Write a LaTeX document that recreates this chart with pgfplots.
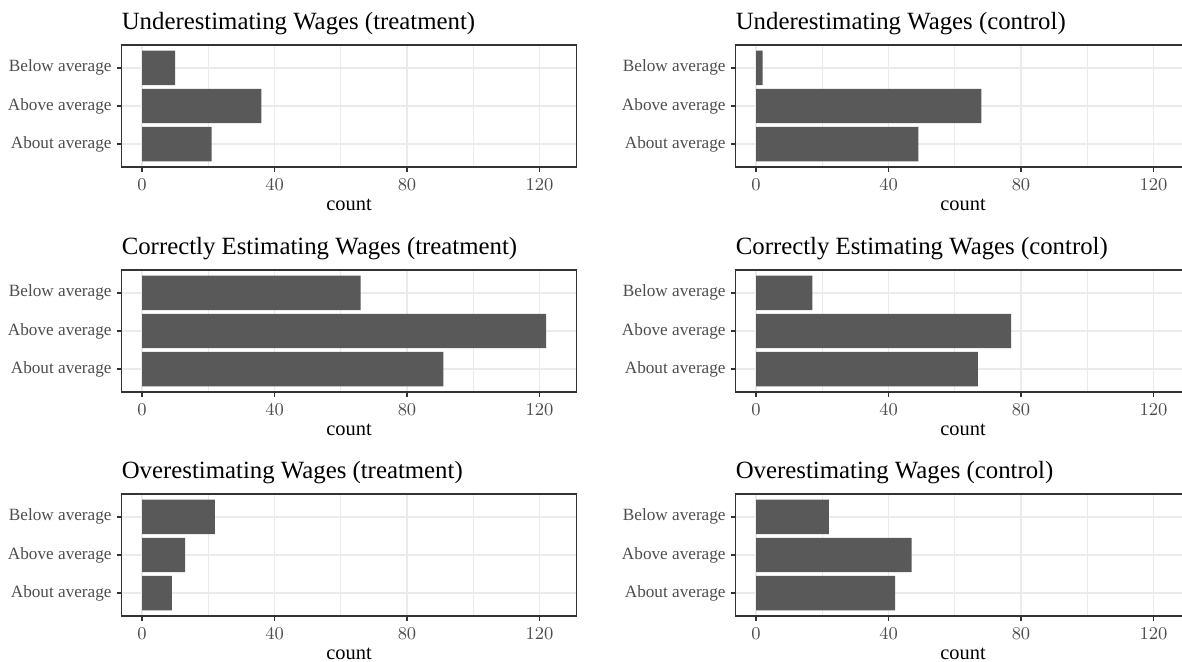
\documentclass[border=0pt]{standalone}
\usepackage{pgfplots}
\pgfplotsset{compat=1.18}
\usepackage{pgfplotstable}
\usepackage{fontspec}
\setmainfont{Liberation Serif}

\definecolor{barfill}{HTML}{595959}
\definecolor{gridgray}{HTML}{EBEBEB}
\definecolor{border}{HTML}{333333}
\definecolor{ticktext}{HTML}{4D4D4D}

% counts per perceived-rank category (1 = About, 2 = Above, 3 = Below average)
\pgfplotstableread{
cat undert underc correctt correctc overt overc
1   21     49     91       67       9     42
2   36     68     122      77       13    47
3   10     2      66       17       22    22
}\counts

\pgfplotsset{
  every axis title shift=0pt,
  panel/.style={
    scale only axis, width=227.65pt, height=61pt,
    xmin=-6.25, xmax=131.25, ymin=0.4, ymax=3.6,
    xtick={0,40,80,120}, minor xtick={20,60,100},
    ytick={1,2,3},
    yticklabels={About average,Above average,Below average},
    xmajorgrids, xminorgrids, ymajorgrids,
    major grid style={color=gridgray, line width=0.85pt},
    minor grid style={color=gridgray, line width=0.5pt},
    axis line style={color=border, line width=0.7pt},
    tick style={color=border, line width=0.7pt},
    major tick length=2.3pt, minor tick length=0pt,
    tick align=outside, xtick pos=bottom, ytick pos=left,
    ticklabel style={font=\fontsize{8.6}{10}\selectfont, text=ticktext, inner sep=0pt},
    xticklabel style={anchor=north, yshift=-3.5pt},
    yticklabel style={anchor=east, xshift=-2.4pt},
    xlabel={count},
    xlabel style={at={(axis description cs:0.5,0)}, anchor=base, yshift=-21.8pt,
      font=\fontsize{10.2}{12}\selectfont, inner sep=0pt},
    title style={at={(axis description cs:0,1)}, anchor=base west, yshift=7.8pt,
      font=\fontsize{12.4}{14}\selectfont, inner sep=0pt},
    axis on top=false,
  },
  countbar/.style={xbar, bar width=0.9, fill=barfill, draw=none},
}

\begin{document}
\begin{tikzpicture}
% left column: treatment
\begin{axis}[panel, at={(60.7pt,-22.5pt)}, anchor=north west,
  title={Underestimating Wages (treatment)}]
  \addplot[countbar] table[x=undert, y=cat] {\counts};
\end{axis}
\begin{axis}[panel, at={(60.7pt,-135pt)}, anchor=north west,
  title={Correctly Estimating Wages (treatment)}]
  \addplot[countbar] table[x=correctt, y=cat] {\counts};
\end{axis}
\begin{axis}[panel, at={(60.7pt,-247pt)}, anchor=north west,
  title={Overestimating Wages (treatment)}]
  \addplot[countbar] table[x=overt, y=cat] {\counts};
\end{axis}
% right column: control
\begin{axis}[panel, at={(367.7pt,-22.5pt)}, anchor=north west,
  title={Underestimating Wages (control)}]
  \addplot[countbar] table[x=underc, y=cat] {\counts};
\end{axis}
\begin{axis}[panel, at={(367.7pt,-135pt)}, anchor=north west,
  title={Correctly Estimating Wages (control)}]
  \addplot[countbar] table[x=correctc, y=cat] {\counts};
\end{axis}
\begin{axis}[panel, at={(367.7pt,-247pt)}, anchor=north west,
  title={Overestimating Wages (control)}]
  \addplot[countbar] table[x=overc, y=cat] {\counts};
\end{axis}
\pgfresetboundingbox
\useasboundingbox (0,0) rectangle (591pt,-331pt);
\end{tikzpicture}
\end{document}
